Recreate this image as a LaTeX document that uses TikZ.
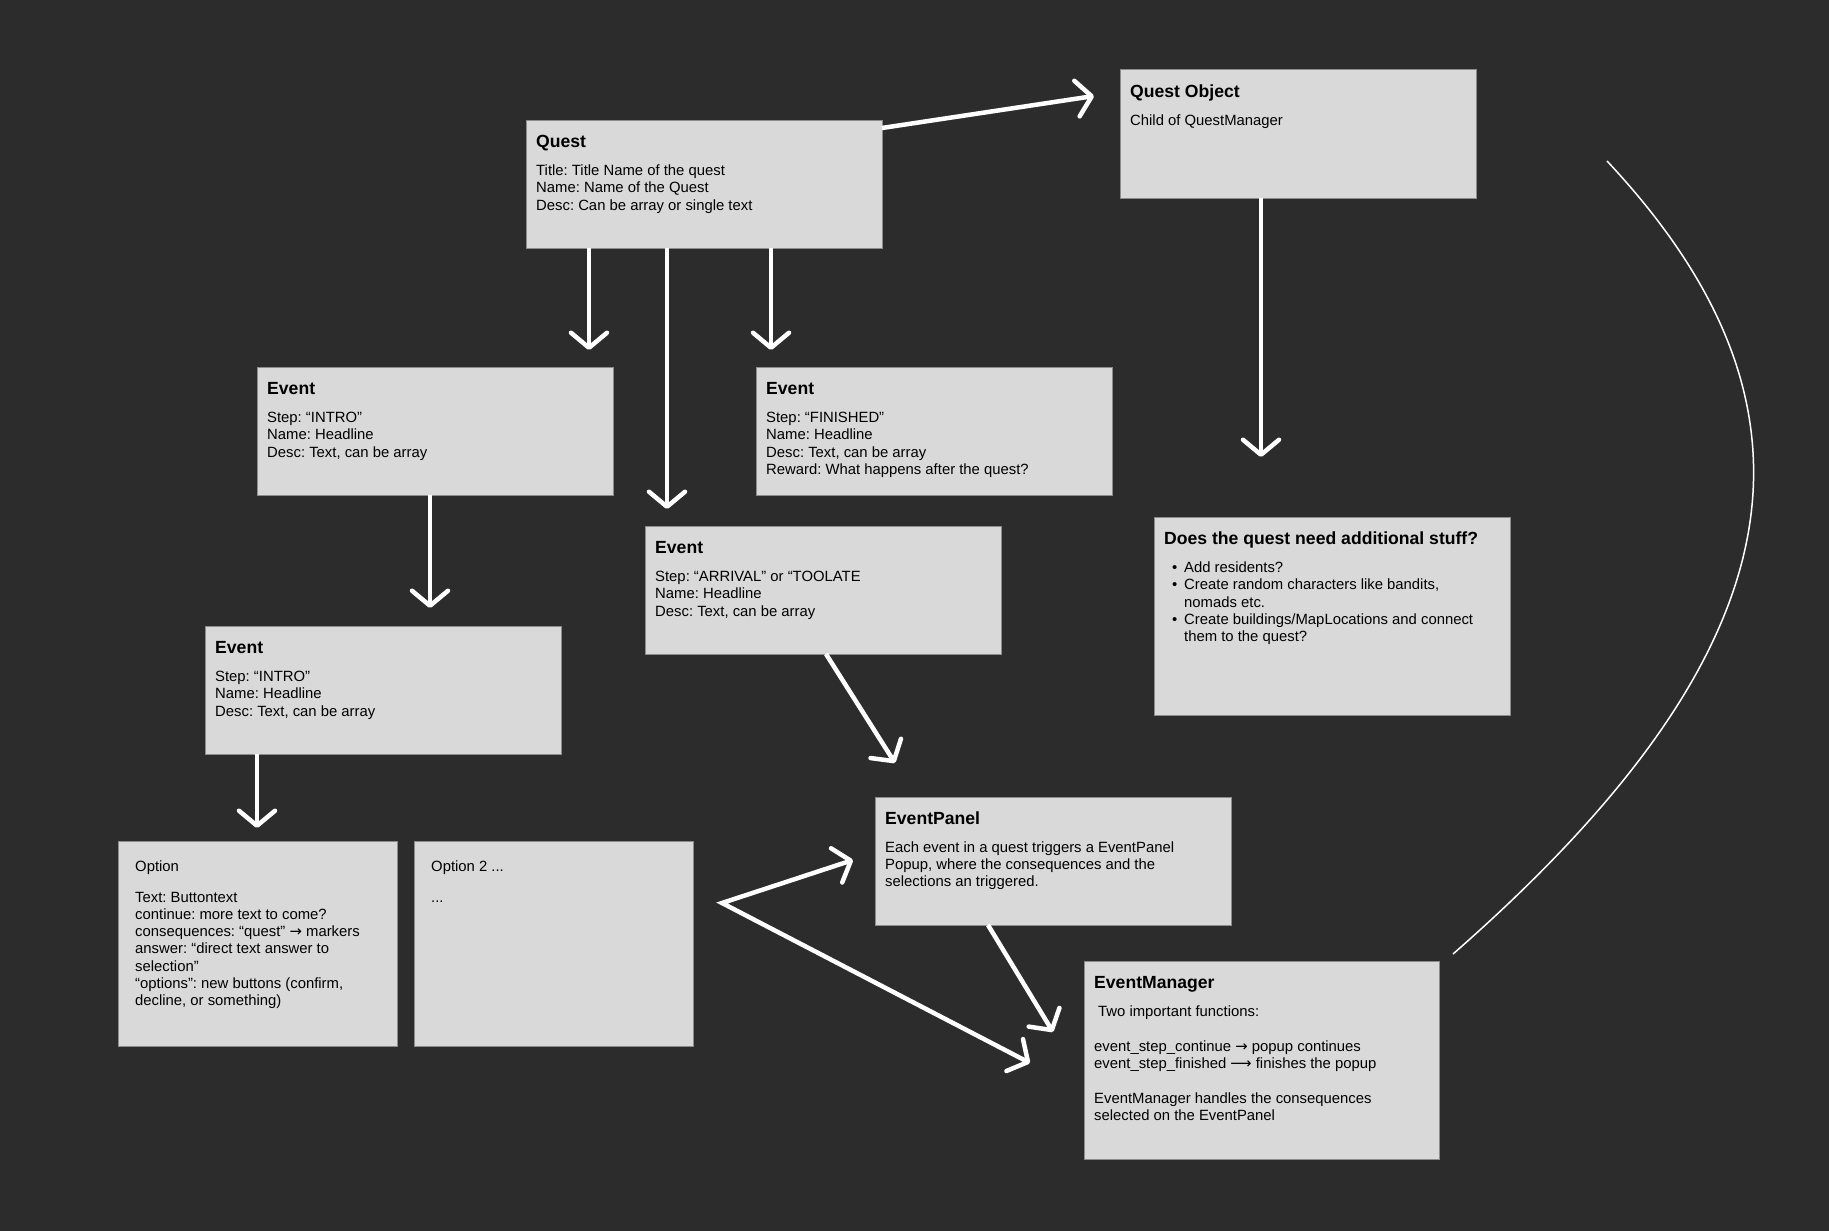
\documentclass[tikz,border=0pt]{standalone}
\usepackage{fontspec}
\setmainfont{Liberation Sans}
\newfontfamily\symfont{DejaVu Sans}
\usetikzlibrary{arrows.meta}
\definecolor{bg}{HTML}{2C2C2C}
\definecolor{cardfill}{HTML}{D9D9D9}
\definecolor{cardline}{HTML}{8C8C8C}
\newcommand\headfont{\fontsize{17.6}{21}\selectfont\bfseries}
\newcommand\bodyfont{\fontsize{14.85}{17.3}\selectfont}
\newcommand\cardtext[1]{\parbox[t]{420pt}{\raggedright\frenchspacing #1}}
\newcommand\sarr{{\symfont →}}
\newcommand\larr{{\symfont ⟶}}
\begin{document}
\frenchspacing
\begin{tikzpicture}[x=1pt,y=-1pt,
 card/.style={draw=cardline, fill=cardfill, line width=1pt, rectangle, inner sep=0pt, outer sep=0pt, anchor=north west},
 stdcard/.style={card, minimum width=356pt, minimum height=128pt},
 head/.style={anchor=base west, inner sep=0pt, font=\headfont, text=black},
 body/.style={anchor=base west, inner sep=0pt, font=\bodyfont, text=black},
 barb/.tip={Straight Barb[length=15pt,width=36pt,round]},
 arr/.style={draw=white, line width=4.5pt, -barb},
 arrboth/.style={draw=white, line width=4.5pt, barb-barb},
 thinline/.style={draw=white, line width=1.5pt},
]
\useasboundingbox[fill=bg] (0,0) rectangle (1829,1231);

% Quest
\node[stdcard] (q) at (526,120) {};
\node[head] (qh) at (536,147.5) {Quest};
\node[body] (qb) at (536,175.5) {\cardtext{Title: Title Name of the quest\\Name: Name of the Quest\\Desc: Can be array or single text}};

% Quest Object
\node[stdcard] (qo) at (1120,70) {};
\node[head] (qoh) at (1130,97.5) {Quest Object};
\node[body] (qob) at (1130,125.5) {\cardtext{Child of QuestManager}};

% Event INTRO 1
\node[stdcard] (e1) at (257,367) {};
\node[head] (e1h) at (267,394.5) {Event};
\node[body] (e1b) at (267,422.5) {\cardtext{Step: “INTRO”\\Name: Headline\\Desc: Text, can be array}};

% Event FINISHED
\node[stdcard] (ef) at (756,367) {};
\node[head] (efh) at (766,394.5) {Event};
\node[body] (efb) at (766,422.5) {\cardtext{Step: “FINISHED”\\Name: Headline\\Desc: Text, can be array\\Reward: What happens after the quest?}};

% Event ARRIVAL
\node[stdcard] (ea) at (645,526) {};
\node[head] (eah) at (655,553.5) {Event};
\node[body] (eab) at (655,581.5) {\cardtext{Step: “ARRIVAL” or “TOOLATE\\Name: Headline\\Desc: Text, can be array}};

% Does the quest need additional stuff?
\node[card, minimum width=356pt, minimum height=198pt] (ds) at (1154,517) {};
\node[head] (dsh) at (1164,544.5) {Does the quest need additional stuff?};
\node[body] (dsd) at (1172,572.5) {\cardtext{•\\•\\\mbox{}\\•}};
\node[body] (dsb) at (1184,572.5) {\cardtext{Add residents?\\Create random characters like bandits,\\nomads etc.\\Create buildings/MapLocations and connect\\them to the quest?}};

% Event INTRO 2
\node[stdcard] (e2) at (205,626) {};
\node[head] (e2h) at (215,653.5) {Event};
\node[body] (e2b) at (215,681.5) {\cardtext{Step: “INTRO”\\Name: Headline\\Desc: Text, can be array}};

% Option
\node[card, minimum width=279pt, minimum height=205pt] (o1) at (118,841) {};
\node[body] (o1h) at (135,871) {Option};
\node[body] (o1b) at (135,902) {\cardtext{Text: Buttontext\\continue: more text to come?\\consequences: “quest” \sarr{} markers\\answer: “direct text answer to\\selection”\\“options”: new buttons (confirm,\\decline, or something)}};

% Option 2
\node[card, minimum width=279pt, minimum height=205pt] (o2) at (414,841) {};
\node[body] (o2h) at (431,871) {Option 2 ...};
\node[body] (o2b) at (431,902) {...};

% EventPanel
\node[stdcard] (ep) at (875,797) {};
\node[head] (eph) at (885,824) {EventPanel};
\node[body] (epb) at (885,852) {\cardtext{Each event in a quest triggers a EventPanel\\Popup, where the consequences and the\\selections an triggered.}};

% EventManager
\node[card, minimum width=355pt, minimum height=198pt] (em) at (1084,961) {};
\node[head] (emh) at (1094,988.5) {EventManager};
\node[body] (emb) at (1094,1016.5) {\cardtext{\hspace*{4pt}Two important functions:\\\mbox{}\\event\_step\_continue \sarr{} popup continues\\event\_step\_finished \larr{} finishes the popup\\\mbox{}\\EventManager handles the consequences\\selected on the EventPanel}};

% arrow tips
\coordinate (t1) at (1094,96);
\coordinate (t2) at (589,350);
\coordinate (t3) at (667,509);
\coordinate (t4) at (771,350);
\coordinate (t5) at (1261,457);
\coordinate (t6) at (430,608);
\coordinate (t7) at (257,828);
\coordinate (t8) at (895,763);
\coordinate (v9) at (722,903);
\coordinate (t9a) at (853,860);
\coordinate (t9b) at (1030,1063);
\coordinate (t10) at (1053,1032);
\coordinate (c0) at (1607,161);
\coordinate (c3) at (1453,954);

\draw[arr] ([yshift=-8pt]q.north east) -- (t1);
\draw[arr] (q.south -| t2) -- (t2);
\draw[arr] (q.south -| t3) -- (t3);
\draw[arr] (q.south -| t4) -- (t4);
\draw[arr] (qo.south -| t5) -- (t5);
\draw[arr] (e1.south -| t6) -- (t6);
\draw[arr] (e2.south -| t7) -- (t7);
\draw[arr] ([xshift=3pt]ea.south) -- (t8);
\draw[arrboth] (t9a) -- (v9) -- (t9b);
\draw[arr] ([xshift=-65pt]ep.south) -- (t10);
\draw[thinline] (c0) .. controls (1840,410) and (1800,650) .. (c3);
\end{tikzpicture}
\end{document}
